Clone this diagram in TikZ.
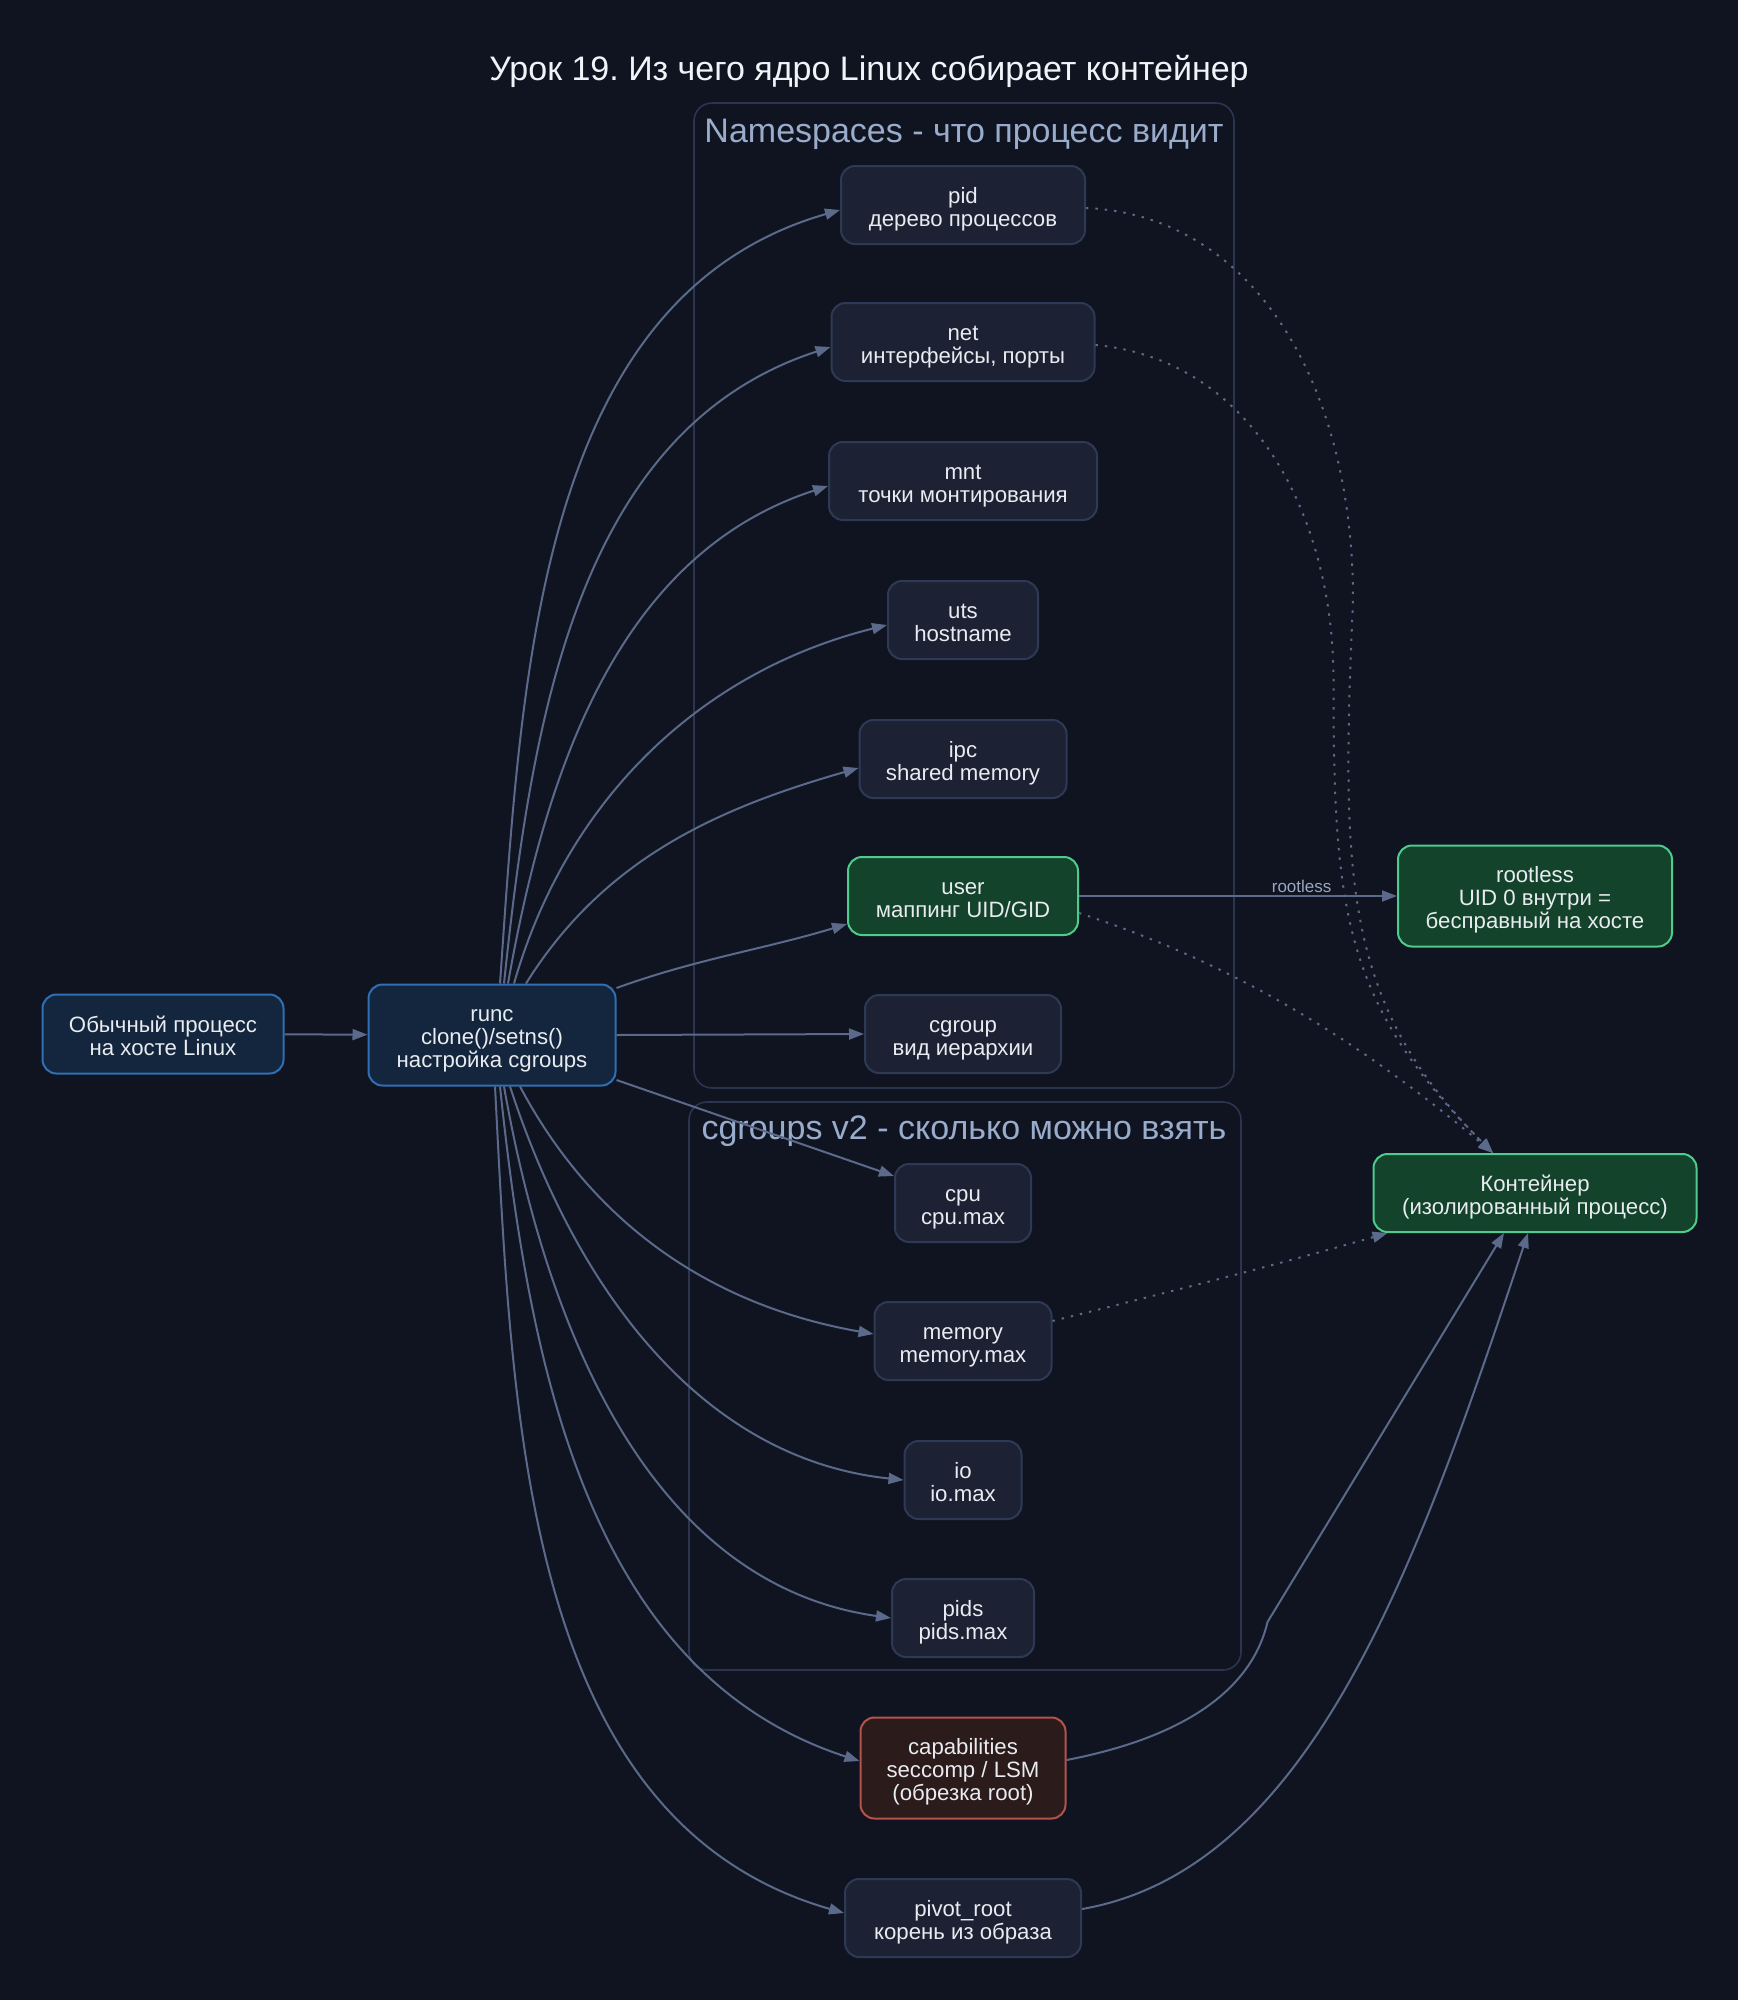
\documentclass[tikz,border=0pt]{standalone}
\usepackage{fontspec}
\setmainfont{Liberation Sans}
\usetikzlibrary{arrows.meta}
\definecolor{bg}{HTML}{0F1420}
\definecolor{nsfill}{HTML}{1C2233}
\definecolor{nsdraw}{HTML}{2E3A55}
\definecolor{bluefill}{HTML}{13263D}
\definecolor{bluedraw}{HTML}{2F6FB5}
\definecolor{greenfill}{HTML}{14432B}
\definecolor{greendraw}{HTML}{4FCB8C}
\definecolor{redfill}{HTML}{2C1B1B}
\definecolor{reddraw}{HTML}{B5524C}
\definecolor{edgec}{HTML}{5B6A8B}
\definecolor{clusterc}{HTML}{2B3550}
\definecolor{clabel}{HTML}{9AACCC}
\definecolor{titlec}{HTML}{F0F3F7}
\definecolor{txt}{HTML}{E8EBF0}
\definecolor{elabel}{HTML}{9AA7BF}
\newcommand\topstrut{\rule{0pt}{25pt}}
\newcommand\botstrut{\rule[-6pt]{0pt}{6pt}}
\frenchspacing
\begin{document}
\begin{tikzpicture}[x=1pt,y=1pt,
  box/.style={draw, rounded corners=14pt, line width=2pt, align=center, inner sep=0pt,
    font=\fontsize{22.2}{23}\selectfont, text=txt},
  nsbox/.style={box, fill=nsfill, draw=nsdraw},
  bluebox/.style={box, fill=bluefill, draw=bluedraw},
  greenbox/.style={box, fill=greenfill, draw=greendraw},
  redbox/.style={box, fill=redfill, draw=reddraw},
  cluster/.style={draw=clusterc, line width=1.6pt, rounded corners=18pt},
  clusterlabel/.style={text=clabel, font=\fontsize{34}{39}\selectfont},
  edge/.style={draw=edgec, line width=2pt, -{Triangle[length=15pt,width=11pt]}},
  dotedge/.style={edge, dash pattern=on 2.4pt off 7pt},
  elab/.style={text=elabel, font=\fontsize{17}{20}\selectfont}
]
\fill[bg] (0,0) rectangle (1738,-2000);
\useasboundingbox (0,0) rectangle (1738,-2000);

% title
\node[text=titlec, font=\fontsize{34}{39}\selectfont] (title) at (869,-71) {Урок 19. Из чего ядро Linux собирает контейнер};

% clusters
\draw[cluster] (694,-103) rectangle (1234,-1088);
\node[clusterlabel] (nslabel) at (964,-134) {Namespaces - что процесс видит};
\draw[cluster] (689,-1102) rectangle (1241,-1670);
\node[clusterlabel] (cglabel) at (964,-1131) {cgroups v2 - сколько можно взять};

% nodes
\node[bluebox, minimum width=241, minimum height=79] (host) at (163,-1034) {\topstrut Обычный процесс\\на хосте Linux\botstrut};
\node[bluebox, minimum width=247, minimum height=101] (runc) at (492,-1035) {\topstrut runc\\clone()/setns()\\настройка cgroups\botstrut};

\node[nsbox, minimum width=244, minimum height=78] (pid) at (963,-205) {\topstrut pid\\дерево процессов\botstrut};
\node[nsbox, minimum width=263, minimum height=78] (net) at (963,-342) {\topstrut net\\интерфейсы, порты\botstrut};
\node[nsbox, minimum width=268, minimum height=78] (mnt) at (963,-481) {\topstrut mnt\\точки монтирования\botstrut};
\node[nsbox, minimum width=150, minimum height=78] (uts) at (963,-620) {\topstrut uts\\hostname\botstrut};
\node[nsbox, minimum width=207, minimum height=78] (ipc) at (963,-759) {\topstrut ipc\\shared memory\botstrut};
\node[greenbox, minimum width=230, minimum height=78] (user) at (963,-896) {\topstrut user\\маппинг UID/GID\botstrut};
\node[nsbox, minimum width=196, minimum height=78] (cgns) at (963,-1034) {\topstrut cgroup\\вид иерархии\botstrut};

\node[nsbox, minimum width=136, minimum height=78] (cpu) at (963,-1203) {\topstrut cpu\\cpu.max\botstrut};
\node[nsbox, minimum width=177, minimum height=78] (memory) at (963,-1341) {\topstrut memory\\memory.max\botstrut};
\node[nsbox, minimum width=117, minimum height=78] (io) at (963,-1480) {\topstrut io\\io.max\botstrut};
\node[nsbox, minimum width=142, minimum height=78] (pids) at (963,-1618) {\topstrut pids\\pids.max\botstrut};

\node[redbox, minimum width=205, minimum height=101] (caps) at (963,-1768) {\topstrut capabilities\\seccomp / LSM\\(обрезка root)\botstrut};
\node[nsbox, minimum width=236, minimum height=78] (pivot) at (963,-1918) {\topstrut pivot\_root\\корень из образа\botstrut};

\node[greenbox, minimum width=274, minimum height=101] (rootless) at (1535,-896) {\topstrut rootless\\UID 0 внутри =\\бесправный на хосте\botstrut};
\node[greenbox, minimum width=323, minimum height=78] (cont) at (1535,-1193) {\topstrut Контейнер\\(изолированный процесс)\botstrut};

% waypoints of the routed connectors
\coordinate (pidw) at ([shift={(267,-395)}]pid.east);
\coordinate (netw) at ([shift={(238,-338)}]net.east);
\coordinate (capw) at ([shift={(201,146)}]caps.east);

% edges
\draw[edge] (host) -- (runc);

\draw[edge] ([xshift=8]runc.north) to[out=86,in=196,looseness=0.95] ([yshift=-5]pid.west);
\draw[edge] ([xshift=12]runc.north) to[out=84,in=198,looseness=0.95] ([yshift=-5]net.west);
\draw[edge] ([xshift=16]runc.north) to[out=80,in=198,looseness=0.95] ([yshift=-5]mnt.west);
\draw[edge] ([xshift=22]runc.north) to[out=74,in=194,looseness=0.95] ([yshift=-5]uts.west);
\draw[edge] ([xshift=34]runc.north) to[out=58,in=196,looseness=0.95] ([yshift=-9]ipc.west);
\draw[edge] ([yshift=47]runc.east) to[out=20,in=197,looseness=0.9] ([yshift=-28]user.west);
\draw[edge] (runc.east) -- (cgns.west);
\draw[edge] ([yshift=-45]runc.east) -- ([yshift=27]cpu.west);

\draw[edge] ([xshift=28]runc.south) to[out=-62,in=170,looseness=0.95] ([yshift=7]memory.west);
\draw[edge] ([xshift=18]runc.south) to[out=-72,in=174,looseness=0.95] (io.west);
\draw[edge] ([xshift=12]runc.south) to[out=-80,in=172,looseness=0.95] (pids.west);
\draw[edge] ([xshift=8]runc.south) to[out=-84,in=162,looseness=0.95] ([yshift=7]caps.west);
\draw[edge] ([xshift=3]runc.south) to[out=-87,in=164,looseness=0.95] ([yshift=5]pivot.west);

\draw[edge] (user.east) -- node[elab, pos=0.7, above=-1pt] {rootless} (rootless.west);

\draw[dotedge] ([yshift=-3]pid.east) .. controls +(165,-7) and +(0,220) .. (pidw)
  .. controls +(-12,-280) and +(-150,150) .. ([xshift=-42]cont.north);
\draw[dotedge] ([yshift=-3]net.east) .. controls +(160,-15) and +(0,160) .. (netw)
  .. controls +(0,-230) and +(-150,150) .. ([xshift=-42]cont.north);
\draw[dotedge] ([yshift=-17]user.east) to[out=-18,in=140,looseness=0.9] ([xshift=-42]cont.north);
\draw[dotedge] ([yshift=20]memory.east) to[out=14,in=196,looseness=0.9] ([xshift=15]cont.south west);

\draw[edge] ([yshift=8]caps.east) .. controls +(130,25) and +(-14,-60) .. (capw) -- ([xshift=-31]cont.south);
\draw[edge] ([yshift=9]pivot.east) .. controls +(230,40) and +(-110,-330) .. ([xshift=-7]cont.south);

\end{tikzpicture}
\end{document}
